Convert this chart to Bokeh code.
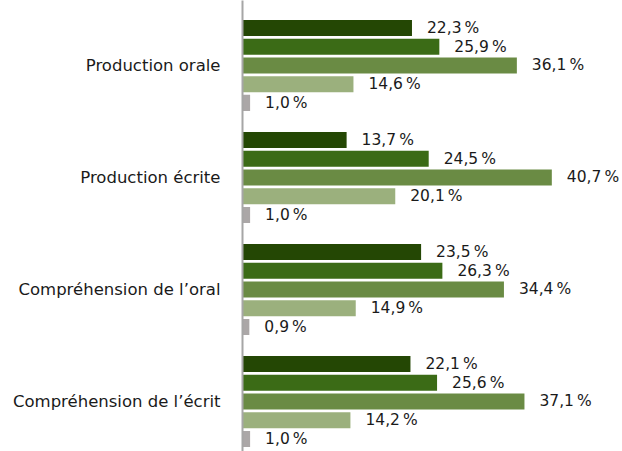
from bokeh.plotting import figure
from bokeh.models import ColumnDataSource, Range1d, FixedTicker
from bokeh.core.properties import value
from bokeh.embed import file_html
from bokeh.resources import INLINE

categories = ["Production orale", "Production écrite", "Compréhension de l’oral", "Compréhension de l’écrit"]
series_1 = [22.3, 13.7, 23.5, 22.1]
series_2 = [25.9, 24.5, 26.3, 25.6]
series_3 = [36.1, 40.7, 34.4, 37.1]
series_4 = [14.6, 20.1, 14.9, 14.2]
series_5 = [1.0, 1.0, 0.9, 1.0]
colors = ["#244704", "#3b6b16", "#6a8b44", "#9bb07d", "#aba7a7"]

all_series = [series_1, series_2, series_3, series_4, series_5]
offsets = [0.334, 0.167, 0.0, -0.167, -0.334]

n = len(categories)
ypos = [n - 1 - i for i in range(n)]

FONT = "DejaVu Sans"

p = figure(width=622, height=451, output_backend="svg", toolbar_location=None,
           x_range=Range1d(0, 50), y_range=Range1d(-0.4464, 3.580),
           min_border_left=242, min_border_right=0, min_border_top=0, min_border_bottom=0)

for s, c, off in zip(all_series, colors, offsets):
    src = ColumnDataSource(dict(
        y=[yy + off for yy in ypos],
        v=s,
        lab=[f"{v:.1f}".replace(".", ",") + "\u2009%" for v in s],
    ))
    p.hbar(y="y", left=0, right="v", height=0.143, color=c, source=src, line_color=None)
    p.text(x="v", y="y", text="lab", source=src, x_offset=15, text_baseline="middle",
           text_align="left", text_font=value(FONT), text_font_size="15.5px", text_color="#1a1a1a")

p.xaxis.visible = False
p.xgrid.visible = False
p.ygrid.visible = False
p.outline_line_color = None

p.yaxis.ticker = FixedTicker(ticks=ypos)
p.yaxis.major_label_overrides = {yy: c for yy, c in zip(ypos, categories)}
p.yaxis.major_tick_line_color = None
p.yaxis.minor_tick_line_color = None
p.yaxis.major_tick_out = 0
p.yaxis.major_label_standoff = 22
p.yaxis.major_label_text_font = FONT
p.yaxis.major_label_text_font_size = "16.5px"
p.yaxis.major_label_text_color = "#1a1a1a"
p.yaxis.axis_line_color = "#a6a6a6"
p.yaxis.axis_line_width = 2

open("out.html", "w").write(file_html(p, INLINE))
